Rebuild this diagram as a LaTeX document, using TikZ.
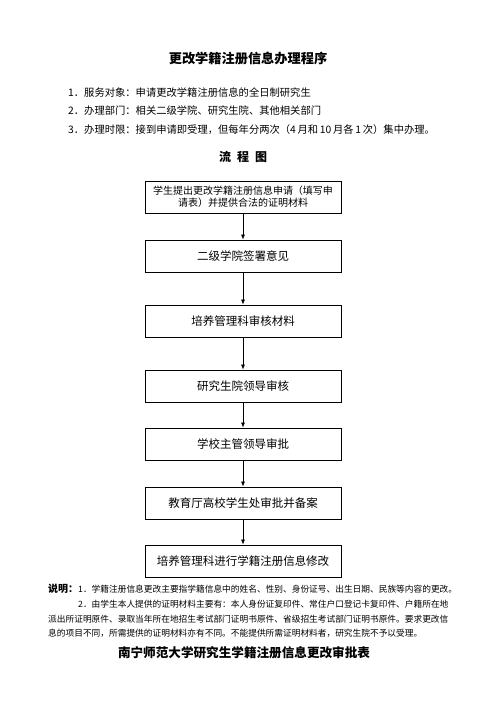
\documentclass[tikz,border=0pt]{standalone}
\usepackage{fontspec}
\setmainfont{Noto Sans CJK SC}
\usetikzlibrary{arrows.meta}
\tikzset{
  stepbox/.style={draw, line width=0.9pt, minimum width=196pt, minimum height=32pt, inner sep=2pt, align=center},
  flow/.style={-{Latex[length=5pt,width=4pt]}, line width=0.6pt},
  txt/.style={inner sep=0pt, anchor=west}
}
\begin{document}
\begin{tikzpicture}[x=1pt,y=-1pt]
\useasboundingbox[fill=white] (0,0) rectangle (496,702);
\node[inner sep=0pt] (title) at (248,58) {\fontsize{13.2}{15}\selectfont\bfseries 更改学籍注册信息办理程序};
\node[txt] (i1) at (68,93) {\fontsize{10.3}{12}\selectfont 1．服务对象：申请更改学籍注册信息的全日制研究生};
\node[txt] (i2) at (68,111) {\fontsize{10.3}{12}\selectfont 2．办理部门：相关二级学院、研究生院、其他相关部门};
\node[txt] (i3) at (68,130) {\fontsize{10.3}{12}\selectfont 3．办理时限：接到申请即受理，但每年分两次（4\,月和\,10\,月各\,1\,次）集中办理。};
\node[inner sep=0pt] (lct) at (243,157) {\fontsize{12}{14}\selectfont\bfseries 流\hspace{6pt}程\hspace{6pt}图};
\node[stepbox] (b1) at (243,197) {\fontsize{10}{15}\selectfont 学生提出更改学籍注册信息申请（填写申\\请表）并提供合法的证明材料};
\node[stepbox] (b2) at (243,256) {\fontsize{11.5}{14}\selectfont 二级学院签署意见};
\node[stepbox] (b3) at (243,321) {\fontsize{11.5}{14}\selectfont 培养管理科审核材料};
\node[stepbox] (b4) at (243,386) {\fontsize{11.5}{14}\selectfont 研究生院领导审核};
\node[stepbox] (b5) at (243,444) {\fontsize{11.5}{14}\selectfont 学校主管领导审批};
\node[stepbox] (b6) at (243,503) {\fontsize{11.5}{14}\selectfont 教育厅高校学生处审批并备案};
\node[stepbox] (b7) at (243,561) {\fontsize{11.5}{14}\selectfont 培养管理科进行学籍注册信息修改};
\draw[flow] (b1) -- (b2);
\draw[flow] (b2) -- (b3);
\draw[flow] (b3) -- (b4);
\draw[flow] (b4) -- (b5);
\draw[flow] (b5) -- (b6);
\draw[flow] (b6) -- (b7);
\node[txt] (n1) at (48,589) {\fontsize{10}{12}\selectfont\bfseries 说明：\fontsize{8.7}{12}\selectfont\mdseries 1．学籍注册信息更改主要指学籍信息中的姓名、性别、身份证号、出生日期、民族等内容的更改。};
\node[txt] (n2) at (78,604) {\fontsize{8.7}{12}\selectfont 2．由学生本人提供的证明材料主要有：本人身份证复印件、常住户口登记卡复印件、户籍所在地};
\node[txt] (n3) at (48,619) {\fontsize{8.7}{12}\selectfont 派出所证明原件、录取当年所在地招生考试部门证明书原件、省级招生考试部门证明书原件。要求更改信};
\node[txt] (n4) at (48,633) {\fontsize{8.7}{12}\selectfont 息的项目不同，所需提供的证明材料亦有不同。不能提供所需证明材料者，研究生院不予以受理。};
\node[inner sep=0pt] (t2) at (244,653) {\fontsize{12.6}{15}\selectfont\bfseries 南宁师范大学研究生学籍注册信息更改审批表};
\end{tikzpicture}
\end{document}
